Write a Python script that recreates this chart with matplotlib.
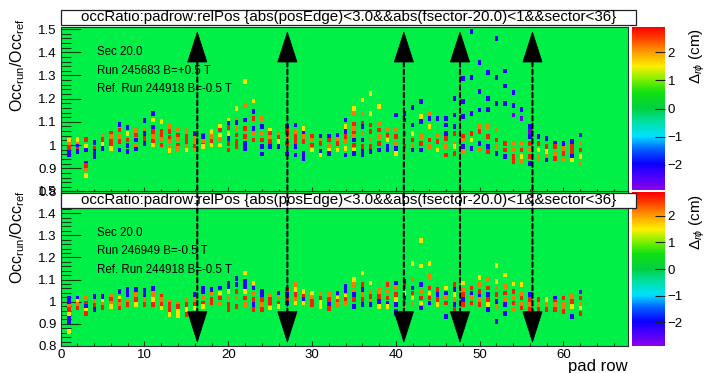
import matplotlib
matplotlib.use("Agg")
import matplotlib.pyplot as plt
from matplotlib.colors import LinearSegmentedColormap, Normalize
from matplotlib.patches import Polygon, ConnectionPatch, Rectangle
from matplotlib.path import Path

plt.rcParams['font.family'] = ['Liberation Sans', 'DejaVu Sans']
plt.rcParams['mathtext.fontset'] = 'custom'
plt.rcParams['mathtext.rm'] = 'Liberation Sans'
plt.rcParams['mathtext.it'] = 'Liberation Sans:italic'
plt.rcParams['mathtext.sf'] = 'Liberation Sans'

# relPos (Delta r-phi, cm) levels of the filled bins
R, O, Y, B, V = 2.7, 2.2, 1.6, -2.2, -2.7

# ---- upper pad: run 245683 vs 244918, one list per pad row ----
top_occ = [
    [0.853, 0.836, 0.815],
    [1.022, 1.003, 0.990, 0.970, 0.960],
    [1.024, 1.004, 0.993, 0.983, 0.971],
    [1.024, 0.993, 0.978, 0.921, 0.911, 0.892, 0.868],
    [1.010, 0.986, 0.971, 0.961, 0.950],
    [1.039, 1.024, 1.004, 0.986],
    [1.050, 1.036, 1.014, 0.997, 0.986],
    [1.089, 1.065, 1.036, 1.014, 0.978],
    [1.076, 1.050, 1.022, 0.997, 0.971],
    [1.062, 1.043, 1.022, 0.997, 0.983],
    [1.105, 1.065, 1.050, 1.029, 1.007],
    [1.136, 1.108, 1.075, 1.057, 1.036, 1.014, 1.000],
    [1.101, 1.057, 1.043, 1.022, 1.000],
    [1.079, 1.057, 1.033, 1.014, 0.986, 0.976],
    [1.065, 1.043, 1.022, 1.000, 0.986],
    [1.062, 1.036, 1.014, 0.993, 0.978],
    [1.050, 1.029, 1.014, 0.993, 0.978],
    [1.043, 1.036, 1.014, 1.000, 0.993],
    [1.057, 1.036, 1.014, 1.000],
    [1.079, 1.065, 1.043, 1.022, 1.000],
    [1.108, 1.093, 1.076, 1.050, 1.029, 1.007, 0.978],
    [1.158, 1.111, 1.096, 1.072, 1.043, 1.014, 0.993],
    [1.273, 1.168, 1.108, 1.072, 1.036, 1.007, 0.986],
    [1.190, 1.144, 1.115, 1.072, 1.050, 1.022],
    [1.115, 1.079, 1.050, 1.022, 0.993, 0.961],
    [1.065, 1.050, 1.033, 1.014, 0.993],
    [1.050, 1.033, 1.014, 0.993],
    [1.082, 1.065, 1.050, 1.033, 1.007, 0.961],
    [1.086, 1.057, 1.036, 1.014, 0.993, 0.957],
    [1.072, 1.050, 1.036, 1.014, 0.964, 0.943],
    [1.036, 1.022, 1.000, 0.978],
    [1.039, 1.022, 1.007, 0.971, 0.957],
    [1.036, 1.022, 1.000, 0.978, 0.964],
    [1.043, 1.022, 1.007, 0.978],
    [1.108, 1.079, 1.057, 1.036, 1.014, 0.986, 0.957],
    [1.158, 1.137, 1.091, 1.072, 1.050, 1.036, 1.022, 1.000, 0.978, 0.964],
    [1.194, 1.136, 1.093, 1.079, 1.050, 1.022, 0.993, 0.971, 0.957],
    [1.223, 1.136, 1.086, 1.057, 1.022, 0.993, 0.971],
    [1.165, 1.093, 1.065, 1.036, 1.007, 0.978],
    [1.065, 1.043, 1.022, 0.993, 0.978],
    [1.129, 1.065, 1.036, 1.007, 0.986, 0.964],
    [1.136, 1.108, 1.050, 1.022, 0.993, 0.964],
    [1.162, 1.086, 1.050, 1.022, 0.993, 0.978],
    [1.187, 1.122, 1.101, 1.036, 1.007, 0.978],
    [1.136, 1.115, 1.079, 1.022, 0.993],
    [1.115, 1.043, 1.014, 0.978],
    [1.115, 1.086, 1.050, 1.029, 0.993, 0.957],
    [1.201, 1.129, 1.079, 1.050, 1.007, 0.993, 0.964],
    [1.287, 1.187, 1.122, 1.036, 1.022, 0.993, 0.971],
    [1.489, 1.292, 1.136, 1.050, 1.022, 0.986],
    [1.356, 1.230, 1.151, 1.079, 1.057, 1.007, 0.978],
    [1.312, 1.201, 1.154, 1.079, 1.036, 0.993, 0.971],
    [1.460, 1.292, 1.180, 1.065, 1.022, 0.993, 0.964],
    [1.319, 1.254, 1.180, 1.007, 0.978, 0.950],
    [1.226, 1.172, 1.129, 1.007, 0.978, 0.950, 0.928],
    [1.154, 1.115, 1.007, 0.978, 0.950, 0.928],
    [1.079, 1.057, 1.036, 1.007, 0.978, 0.950, 0.921],
    [1.036, 1.007, 0.978, 0.957, 0.935],
    [1.029, 0.993, 0.971, 0.950, 0.935],
    [1.007, 0.993, 0.964, 0.943],
    [1.007, 0.986, 0.964, 0.935],
    [1.014, 0.993, 0.971, 0.950, 0.935],
    [1.043, 1.007, 0.978, 0.950, 0.921],
]
top_drphi = [
    [R, O, Y],
    [Y, O, R, B, B],
    [Y, O, B, R, B],
    [R, Y, B, B, R, O, Y],
    [B, R, B, B, B],
    [O, R, Y, B],
    [R, O, R, R, Y],
    [B, R, O, R, B],
    [B, Y, R, B, B],
    [O, R, B, O, B],
    [B, O, B, R, B],
    [B, Y, B, R, O, R, Y],
    [Y, R, R, O, R],
    [O, R, R, O, O, Y],
    [O, R, O, R, O],
    [O, R, R, O, Y],
    [B, O, O, R, O],
    [R, B, O, R, Y],
    [Y, O, R, Y],
    [Y, R, Y, O, Y],
    [Y, B, R, Y, B, R, R],
    [Y, O, B, O, R, R, R],
    [Y, O, B, R, R, B, B],
    [Y, B, R, B, O, R],
    [O, B, O, R, B, B],
    [Y, R, O, R, B],
    [O, R, Y, B],
    [B, R, R, O, R, B],
    [B, O, R, R, B, B],
    [Y, B, O, R, B, B],
    [R, O, R, Y],
    [B, O, R, B, Y],
    [B, R, O, Y, B],
    [B, O, R, Y],
    [B, Y, B, R, O, Y, B],
    [Y, O, R, O, R, O, B, R, Y, B],
    [Y, O, R, B, O, B, R, B, B],
    [Y, Y, R, R, O, R, B],
    [Y, O, R, O, R, B],
    [O, R, Y, B, B],
    [B, O, R, O, B, Y],
    [B, B, R, O, R, O],
    [B, B, Y, R, O, B],
    [B, Y, B, O, R, B],
    [O, B, Y, R, O],
    [B, O, R, Y],
    [B, B, B, R, O, R],
    [B, B, B, R, O, Y, R],
    [B, B, B, R, O, B, O],
    [B, B, B, R, Y, B],
    [B, B, B, O, R, B, O],
    [B, B, B, O, R, B, R],
    [B, B, B, O, R, O, B],
    [B, B, B, R, R, B],
    [B, B, V, O, O, R, R],
    [B, V, O, R, Y, O],
    [B, V, B, R, O, R, B],
    [B, R, Y, O, O],
    [B, R, Y, O, B],
    [B, R, O, R],
    [B, O, R, O],
    [B, R, R, B, Y],
    [V, O, R, Y, O],
]

# ---- lower pad: run 246949 vs 244918 ----
bot_occ = [
    [0.948, 0.926, 0.911, 0.895, 0.877],
    [1.017, 1.002, 0.979, 0.964, 0.941, 0.926, 0.911, 0.865],
    [1.017, 1.002, 0.986, 0.971],
    [1.017, 0.994, 0.979, 0.959, 0.948],
    [1.024, 1.002, 0.983, 0.964],
    [1.024, 1.002, 0.986, 0.974],
    [1.024, 1.009, 0.994, 0.979],
    [1.047, 1.017, 1.002, 0.986, 0.971],
    [1.055, 1.032, 1.002, 0.986],
    [1.055, 1.032, 1.009, 0.986],
    [1.050, 1.032, 1.009, 0.986],
    [1.059, 1.032, 1.009, 0.986],
    [1.024, 1.009, 0.986, 0.971],
    [1.002, 0.986, 0.964, 0.941],
    [0.994, 0.979, 0.956, 0.936],
    [1.009, 0.986, 0.964, 0.941],
    [1.032, 1.009, 0.986, 0.971],
    [1.059, 1.047, 1.017, 0.994, 0.979],
    [1.055, 1.035, 1.009, 0.994],
    [1.062, 1.039, 1.017, 0.994],
    [1.085, 1.070, 1.047, 1.017, 0.986, 0.964],
    [1.105, 1.077, 1.047, 1.017, 0.979],
    [1.130, 1.092, 1.070, 1.047, 1.017, 0.986],
    [1.085, 1.062, 1.039, 1.009, 0.986, 0.964],
    [1.047, 1.032, 1.009, 0.986, 0.964],
    [1.024, 1.009, 0.994, 0.971],
    [1.039, 1.017, 0.994, 0.979],
    [1.055, 1.032, 1.009, 0.994],
    [1.077, 1.055, 1.032, 1.009, 0.994],
    [1.047, 1.024, 1.009, 0.994],
    [1.039, 1.017, 1.002, 0.986],
    [1.039, 1.017, 0.998, 0.979],
    [1.032, 1.009, 0.986, 0.968],
    [1.039, 1.017, 1.002, 0.986],
    [1.070, 1.050, 1.024, 1.009, 0.994],
    [1.100, 1.077, 1.047, 1.032, 1.009, 0.979],
    [1.130, 1.077, 1.055, 1.032, 1.009, 0.986],
    [1.085, 1.047, 1.024, 1.002, 0.986],
    [1.050, 1.024, 1.002, 0.979],
    [1.077, 1.047, 1.017, 0.994, 0.979],
    [1.085, 1.062, 1.032, 1.009, 0.986, 0.956, 0.944],
    [1.092, 1.070, 1.039, 1.017, 0.994, 0.971],
    [1.171, 1.100, 1.062, 1.039, 1.017, 0.994],
    [1.277, 1.161, 1.077, 1.047, 1.017, 0.994, 0.971],
    [1.171, 1.115, 1.062, 1.039, 1.017, 0.994],
    [1.055, 1.032, 1.009, 0.986],
    [1.062, 1.039, 1.017, 0.994, 0.933],
    [1.077, 1.055, 1.032, 1.009, 0.986, 0.964],
    [1.085, 1.055, 1.032, 1.009, 0.986],
    [1.062, 1.039, 1.017, 0.994],
    [1.108, 1.077, 1.047, 1.024, 1.009, 0.986],
    [1.100, 1.062, 1.032, 1.009, 0.986, 0.964],
    [1.165, 1.092, 1.062, 1.032, 1.002, 0.979, 0.911],
    [1.120, 1.070, 1.039, 1.009, 0.986, 0.948],
    [1.080, 1.047, 1.017, 0.994, 0.964],
    [1.077, 1.039, 1.017, 0.994, 0.971],
    [1.032, 1.009, 0.986, 0.964],
    [1.009, 0.986, 0.964],
    [1.009, 0.986, 0.964],
    [1.017, 1.002, 0.986, 0.964],
    [1.017, 0.994, 0.971, 0.956],
    [1.024, 1.002, 0.979, 0.933],
    [1.044, 1.017, 0.994, 0.971, 0.948],
]
bot_drphi = [
    [B, O, R, Y, Y],
    [B, B, O, R, Y, B, B, Y],
    [B, Y, O, R],
    [O, R, B, Y, R],
    [B, O, R, B],
    [B, Y, O, R],
    [O, R, O, Y],
    [B, Y, R, O, R],
    [B, B, O, R],
    [B, O, R, Y],
    [B, B, O, R],
    [B, O, Y, R],
    [R, O, R, Y],
    [O, R, R, Y],
    [O, R, Y, Y],
    [O, R, Y, R],
    [B, O, R, Y],
    [B, B, O, R, Y],
    [B, O, R, R],
    [B, Y, R, O],
    [B, B, Y, O, R, R],
    [B, B, R, O, R],
    [Y, B, B, Y, R, O],
    [Y, B, O, R, B, R],
    [B, B, R, O, R],
    [O, R, R, Y],
    [B, O, R, Y],
    [R, B, R, B],
    [O, Y, R, O, Y],
    [Y, R, B, Y],
    [Y, O, R, R],
    [O, R, Y, Y],
    [O, R, B, R],
    [B, Y, R, O],
    [B, B, Y, R, O],
    [Y, O, O, B, R, B],
    [Y, R, B, O, R, B],
    [Y, O, R, O, B],
    [O, R, B, Y],
    [R, O, R, B, Y],
    [B, O, R, Y, B, B, B],
    [B, R, Y, B, R, O],
    [Y, O, B, R, Y, O],
    [Y, Y, B, O, R, Y, B],
    [Y, O, R, Y, R, B],
    [R, B, R, Y],
    [Y, B, O, R, B],
    [R, B, Y, O, B, R],
    [Y, O, R, B, R],
    [R, B, O, R],
    [Y, O, R, B, O, R],
    [O, R, B, R, Y, B],
    [Y, Y, O, R, B, O, B],
    [Y, O, R, O, B, B],
    [Y, R, O, R, O],
    [Y, O, R, O, R],
    [B, R, O, R],
    [R, O, R],
    [Y, O, R],
    [B, R, O, R],
    [R, O, O, R],
    [O, R, Y, B],
    [V, R, O, Y, R],
]

# padrow positions of the marked regions
arrow_rows = [16.3, 27.05, 40.95, 47.65, 56.3]

top_lines = ["Sec 20.0", "Run 245683 B=+0.5 T", "Ref. Run 244918 B=-0.5 T"]
bot_lines = ["Sec 20.0", "Run 246949 B=-0.5 T", "Ref. Run 244918 B=-0.5 T"]
title = "occRatio:padrow:relPos {abs(posEdge)<3.0&&abs(fsector-20.0)<1&&sector<36}"
x_ticks = [0, 10, 20, 30, 40, 50, 60]
y_ticks = [0.8, 0.9, 1.0, 1.1, 1.2, 1.3, 1.4, 1.5]
z_ticks = [-2, -1, 0, 1, 2]

# ---------------------------------------------------------------
W, H = 707, 373
fig = plt.figure(figsize=(W / 100, H / 100), dpi=100)
fig.patch.set_facecolor('white')

def fbox(x0, y0, x1, y1):
    """pixel box (top-left origin) -> figure rect"""
    return [x0 / W, 1 - y1 / H, (x1 - x0) / W, (y1 - y0) / H]

palette = LinearSegmentedColormap.from_list('root_rainbow', [
    (0.00, '#8c00e6'), (0.08, '#4a00ff'), (0.16, '#0a00ff'),
    (0.25, '#0060ff'), (0.33, '#00e0ff'), (0.42, '#00e0a0'),
    (0.50, '#00d040'), (0.60, '#10e010'), (0.68, '#80f000'),
    (0.76, '#ffee00'), (0.86, '#ff9000'), (0.93, '#ff4000'),
    (1.00, '#ff0000')])
norm = Normalize(vmin=-2.9, vmax=2.9)
pad_green = '#00f048'
tick_col = '#0c3c0c'

# tall narrow cell marker
cell = Path([(-0.36, -0.5), (0.36, -0.5), (0.36, 0.5), (-0.36, 0.5), (-0.36, -0.5)],
            [Path.MOVETO, Path.LINETO, Path.LINETO, Path.LINETO, Path.CLOSEPOLY])

XMAX = 67.7
ax_top = fig.add_axes(fbox(60.7, 27, 628, 192))
ax_bot = fig.add_axes(fbox(60.7, 191, 628, 346))
cax_top = fig.add_axes(fbox(632, 27, 665, 190))
cax_bot = fig.add_axes(fbox(632, 192, 665, 346))

panels = [(ax_top, top_occ, top_drphi, (0.7975, 1.509), top_lines, [1.40, 1.319, 1.241], True),
          (ax_bot, bot_occ, bot_drphi, (0.8, 1.5), bot_lines, [1.309, 1.227, 1.141], False)]

for ax, occ, dr, ylim, lines, ytxt, is_top in panels:
    xs, ys, cs = [], [], []
    for row, (vals, rel) in enumerate(zip(occ, dr)):
        for v, c in zip(vals, rel):
            xs.append(row)
            ys.append(v)
            cs.append(c)
    ax.set_facecolor(pad_green)
    sc = ax.scatter(xs, ys, c=cs, cmap=palette, norm=norm, marker=cell, s=11.5,
                    linewidths=0, zorder=2)
    ax.set_xlim(0, XMAX)
    ax.set_ylim(*ylim)
    ax.set_xticks(x_ticks)
    ax.set_xticks(range(0, 68, 2), minor=True)
    ax.set_yticks(y_ticks)
    ax.set_yticks([0.8 + 0.02 * i for i in range(36)], minor=True)
    ax.set_yticklabels(['0.8', '0.9', '1', '1.1', '1.2', '1.3', '1.4', '1.5'])
    ax.tick_params(axis='y', which='major', direction='in', length=14.5, width=0.8,
                   color=tick_col, labelsize=9.5, pad=3)
    ax.tick_params(axis='y', which='minor', direction='in', length=7.2, width=0.8,
                   color=tick_col)
    ax.tick_params(axis='x', which='major', direction='in', length=3.5, width=0.8,
                   color=tick_col, labelsize=9.5, pad=2)
    ax.tick_params(axis='x', which='minor', direction='in', length=2, width=0.8,
                   color=tick_col)
    if is_top:
        ax.tick_params(axis='x', labelbottom=False)
    for sp in ax.spines.values():
        sp.set_color('#303030')
        sp.set_linewidth(0.8)
    for txt, yv in zip(lines, ytxt):
        ax.text(4.33, yv, txt, fontsize=8.3, va='center', ha='left', color='black', zorder=3)
    # marker triangles
    for xr in arrow_rows:
        if is_top:
            tri = [(xr - 1.15, 1.358), (xr + 1.15, 1.358), (xr, 1.487)]
        else:
            tri = [(xr - 1.15, 0.955), (xr + 1.15, 0.955), (xr, 0.818)]
        ax.add_patch(Polygon(tri, closed=True, facecolor='black', edgecolor='black',
                             lw=0.5, zorder=5))

ax_bot.set_zorder(1)

# colour scales
for cax in (cax_top, cax_bot):
    cb = fig.colorbar(sc, cax=cax, ticks=z_ticks)
    cb.outline.set_visible(False)
    cax.tick_params(direction='in', length=7, width=0.8, color='#202020',
                    labelsize=9.5, pad=2)
    cax.set_zorder(1)

# dashed guides through both pads
for xr in arrow_rows:
    con = ConnectionPatch(xyA=(xr, 1.358), coordsA=ax_top.transData,
                          xyB=(xr, 0.955), coordsB=ax_bot.transData,
                          linestyle=(0, (2.2, 1.5)), lw=1.5, color='black', zorder=6)
    fig.add_artist(con)

# pad titles
for (y0, y1) in [(10, 25), (192.5, 207.5)]:
    r = fbox(61, y0, 636, y1)
    fig.add_artist(Rectangle((r[0], r[1]), r[2], r[3], transform=fig.transFigure,
                             facecolor='white', edgecolor='#202020', lw=0.9, zorder=4))
    fig.text((61 + 636) / 2 / W, 1 - (y0 + y1) / 2 / H, title, fontsize=10.9,
             ha='center', va='center', zorder=5)

# axis titles
ylab = r'Occ$_\mathregular{run}$/Occ$_\mathregular{ref}$'
fig.text(18 / W, 1 - 65 / H, ylab, rotation=90, fontsize=11.5, ha='center', va='center')
fig.text(18 / W, 1 - 237 / H, ylab, rotation=90, fontsize=11.5, ha='center', va='center')
zlab = r'$\Delta_{r\phi}$ (cm)'
fig.text(697 / W, 1 - 28 / H, zlab, rotation=90, fontsize=11, ha='center', va='top')
fig.text(697 / W, 1 - 194 / H, zlab, rotation=90, fontsize=11, ha='center', va='top')
fig.text(628 / W, 1 - 366 / H, 'pad row', fontsize=12, ha='right', va='center')

fig.savefig('out.png', dpi=100, facecolor='white')
